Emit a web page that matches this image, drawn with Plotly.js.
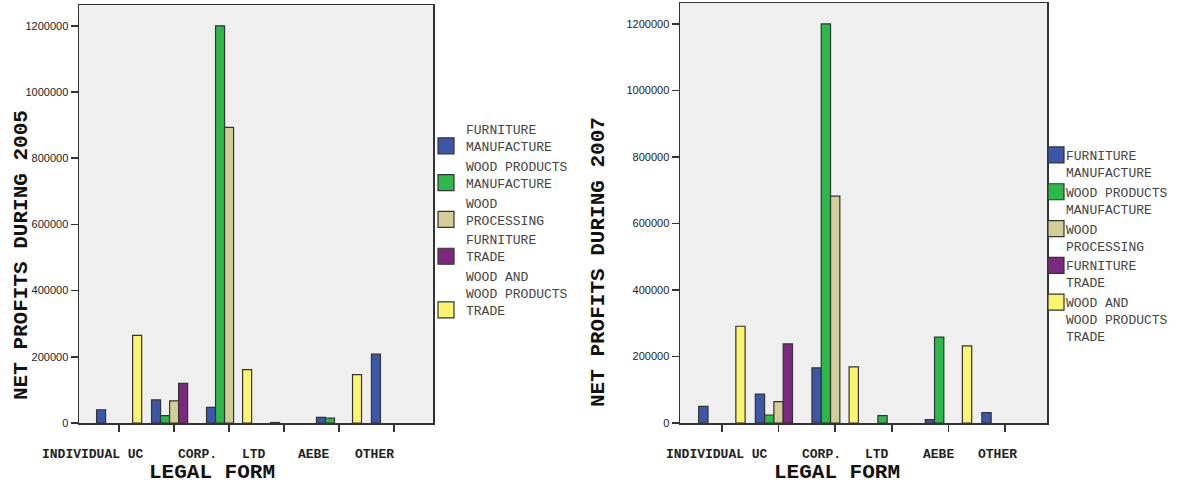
<!DOCTYPE html>
<html>
<head>
<meta charset="utf-8">
<script src="https://cdn.plot.ly/plotly-3.0.1.min.js"></script>
<style>html,body{margin:0;padding:0;background:#fff;}#chart{width:1177px;height:483px;}</style>
</head>
<body>
<div id="chart"></div>
<script>
// ---- data ----
const categories = ["INDIVIDUAL", "UC", "CORP.", "LTD", "AEBE", "OTHER"];
const seriesNames = [
  "FURNITURE<br>MANUFACTURE",
  "WOOD PRODUCTS<br>MANUFACTURE",
  "WOOD<br>PROCESSING",
  "FURNITURE<br>TRADE",
  "WOOD AND<br>WOOD PRODUCTS<br>TRADE"
];
// Net profits during 2005
const furnitureManufacture2005 = [40000, 70000, 47000, null, 17000, 208000];
const woodProductsManufacture2005 = [null, 22000, 1200000, 1500, 15000, null];
const woodProcessing2005 = [null, 67000, 893000, null, null, null];
const furnitureTrade2005 = [null, 120000, null, null, null, null];
const woodTrade2005 = [265000, null, 161000, null, 146000, null];
// Net profits during 2007
const furnitureManufacture2007 = [50000, 87000, 166000, null, 10000, 31000];
const woodProductsManufacture2007 = [null, 24000, 1200000, 22000, 258000, null];
const woodProcessing2007 = [null, 64000, 682000, null, null, null];
const furnitureTrade2007 = [null, 238000, null, null, null, null];
const woodTrade2007 = [291000, null, 169000, null, 232000, null];
// tick labels as printed under the axis
const tickLabels = ["INDIVIDUAL UC", "CORP.", "LTD", "AEBE", "OTHER"];
const yTickVals = [0, 200000, 400000, 600000, 800000, 1000000, 1200000];

// ---- style ----
const colors = ["#3c57a8", "#2db84a", "#d3ce98", "#7b2880", "#faf56e"];
const mono = "Liberation Mono, Courier New, monospace";
const sans = "Liberation Sans, Arial, sans-serif";
const lineCol = "#333";

const s2005 = [furnitureManufacture2005, woodProductsManufacture2005, woodProcessing2005, furnitureTrade2005, woodTrade2005];
const s2007 = [furnitureManufacture2007, woodProductsManufacture2007, woodProcessing2007, furnitureTrade2007, woodTrade2007];

const traces = [];
s2005.forEach((vals, i) => traces.push({
  type: "bar", x: categories, y: vals, name: seriesNames[i], xaxis: "x", yaxis: "y",
  legend: "legend",
  marker: {color: colors[i], line: {color: lineCol, width: 1.2}}, hoverinfo: "x+y+name"
}));
s2007.forEach((vals, i) => traces.push({
  type: "bar", x: categories, y: vals, name: seriesNames[i], xaxis: "x2", yaxis: "y2",
  legend: "legend2",
  marker: {color: colors[i], line: {color: lineCol, width: 1.2}}, hoverinfo: "x+y+name"
}));

const W = 1177, H = 483;
const px = v => v / W, py = v => 1 - v / H;

const xCommon = {
  type: "category", categoryorder: "array", categoryarray: categories,
  showticklabels: false, ticks: "outside", ticklen: 7, tickcolor: lineCol, tickwidth: 1.5,
  showline: true, linecolor: lineCol, linewidth: 1.5, mirror: true, showgrid: false, zeroline: false,
  fixedrange: true
};
const yCommon = {
  range: [0, 1263000], tickvals: yTickVals, ticktext: yTickVals.map(String),
  ticks: "outside", ticklen: 7, tickcolor: lineCol, tickwidth: 1.5,
  tickfont: {family: sans, size: 11, color: "#222"},
  showline: true, linecolor: lineCol, linewidth: 1.5, mirror: true,
  showgrid: false, zeroline: false, fixedrange: true
};

// label positions (category-index units) as they are printed in the original
const labelPos1 = [-0.47, 1.42, 2.45, 3.54, 4.64];
const labelPos2 = [-0.09, 1.75, 2.74, 3.82, 4.86];

const annotations = [];
tickLabels.forEach((t, i) => {
  annotations.push({xref: "x", yref: "paper", x: labelPos1[i], y: py(454), text: t, showarrow: false,
    xanchor: "center", yanchor: "middle", font: {family: mono, size: 13, color: "#222", weight: "bold"}});
  annotations.push({xref: "x2", yref: "paper", x: labelPos2[i], y: py(454), text: t, showarrow: false,
    xanchor: "center", yanchor: "middle", font: {family: mono, size: 13, color: "#222", weight: "bold"}});
});
const titleFont = {family: mono, size: 21, color: "#111", weight: "bold"};
annotations.push({xref: "paper", yref: "paper", x: px(212), y: py(472), text: "LEGAL FORM", showarrow: false,
  xanchor: "center", yanchor: "middle", font: titleFont});
annotations.push({xref: "paper", yref: "paper", x: px(837), y: py(472), text: "LEGAL FORM", showarrow: false,
  xanchor: "center", yanchor: "middle", font: titleFont});
annotations.push({xref: "paper", yref: "paper", x: px(21), y: py(255), text: "NET PROFITS DURING 2005", showarrow: false,
  textangle: -90, xanchor: "center", yanchor: "middle", font: titleFont});
annotations.push({xref: "paper", yref: "paper", x: px(598), y: py(262), text: "NET PROFITS DURING 2007", showarrow: false,
  textangle: -90, xanchor: "center", yanchor: "middle", font: titleFont});

const legendFont = {family: mono, size: 13, color: "#444"};
const layout = {
  width: W, height: H,
  margin: {l: 0, r: 0, t: 0, b: 0, autoexpand: false},
  paper_bgcolor: "#fff",
  plot_bgcolor: "#efefef",
  barmode: "group", bargap: 0.18, bargroupgap: 0,
  showlegend: true,
  xaxis: Object.assign({}, xCommon, {domain: [px(79), px(433)], anchor: "y", range: [-0.73, 5.71]}),
  yaxis: Object.assign({}, yCommon, {domain: [py(423), py(5)], anchor: "x"}),
  xaxis2: Object.assign({}, xCommon, {domain: [px(680), px(1047)], anchor: "y2", range: [-0.74, 5.74]}),
  yaxis2: Object.assign({}, yCommon, {domain: [py(423), py(3)], anchor: "x2"}),
  legend: {x: px(426), y: py(114), xanchor: "left", yanchor: "top", bgcolor: "rgba(0,0,0,0)",
    font: legendFont, valign: "bottom", tracegroupgap: 4, itemwidth: 30, traceorder: "normal"},
  legend2: {x: px(1026), y: py(140), xanchor: "left", yanchor: "top", bgcolor: "rgba(0,0,0,0)",
    font: legendFont, valign: "top", tracegroupgap: 4, itemwidth: 30, traceorder: "normal"},
  annotations: annotations
};

Plotly.newPlot("chart", traces, layout, {displayModeBar: false, staticPlot: true}).then(gd => {
  // enlarge legend swatches to match the original's bigger boxes;
  // in the right-hand legend the swatch sits right next to its text
  gd.querySelectorAll(".legendpoints path").forEach(p => {
    const right = p.getBoundingClientRect().left > 900;
    p.setAttribute("d", right ? "M18,8H2V-8H18Z" : "M8,8H-8V-8H8Z");
  });
});
</script>
</body>
</html>
